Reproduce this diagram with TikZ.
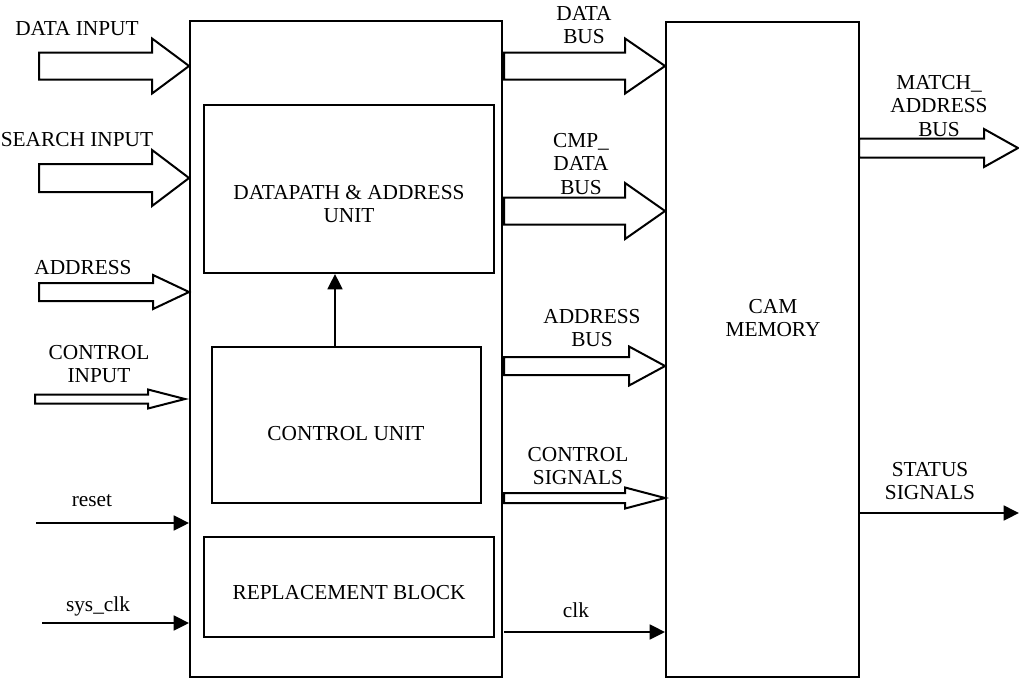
\documentclass[tikz,border=0pt]{standalone}
\usepackage{fontspec}
\setmainfont{Liberation Serif}
\usetikzlibrary{arrows.meta,fit}
\newcommand{\fatarrow}[5]{% #1 tip, #2 head length, #3 shaft length, #4 shaft half width, #5 head half width
  \draw[fat] #1 -- ++({-#2},{-#5}) -- ++(0,{#5-#4}) -- ++({-#3},0) -- ++(0,{2*#4}) -- ++(#3,0) -- ++(0,{#5-#4}) -- cycle;}
\begin{document}
\begin{tikzpicture}[x=0.75pt,y=-0.75pt,
  blk/.style={draw, line width=1.4pt, inner sep=0pt},
  lbl/.style={font=\fontsize{16}{17.6}\selectfont, align=center, inner sep=0pt},
  fat/.style={draw, line width=1.5pt, fill=white, line join=miter},
  sig/.style={line width=2pt, -{Triangle[length=11.5pt,width=11pt]}}]
\useasboundingbox (0,0) rectangle (1019,679);

% blocks
\node[blk, fit={(190,21) (502,677)}] (main) {};
\node[blk, fit={(666,22) (859,677)}] (cam) {};
\node[blk, fit={(204,105) (494,273)}] (dp) {};
\node[blk, fit={(212,347) (481,503)}] (cu) {};
\node[blk, fit={(204,537) (494,637)}] (rb) {};

\node[lbl] (dpt) at (349,204) {DATAPATH \& ADDRESS\\UNIT};
\node[lbl] (cut) at (346,434) {CONTROL UNIT};
\node[lbl] (rbt) at (349,593) {REPLACEMENT BLOCK};
\node[lbl] (camt) at (773,318) {CAM\\MEMORY};

% control unit -> datapath
\coordinate (vx) at (335,0);
\draw[sig] (cu.north -| vx) -- (dp.south -| vx);

% left bus inputs
\fatarrow{(main.west |- 0,66)}{37}{113}{13.5}{27.5}
\fatarrow{(main.west |- 0,178)}{37}{113}{14}{28}
\fatarrow{(main.west |- 0,292)}{36}{114}{9}{17}
\coordinate (citip) at (185,399);
\fatarrow{(citip)}{37}{113}{4.5}{9.5}

\node[lbl] (l1) at (77,29) {DATA INPUT};
\node[lbl] (l2) at (77,140) {SEARCH INPUT};
\node[lbl] (l3) at (83,268) {ADDRESS};
\node[lbl] (l4) at (99,364) {CONTROL\\INPUT};

% left single signals
\coordinate (rs) at (36,523);
\coordinate (sc) at (42,623);
\draw[sig] (rs) -- (main.west |- rs);
\draw[sig] (sc) -- (main.west |- sc);
\node[lbl] (l5) at (92,501) {reset};
\node[lbl] (l6) at (98,606) {sys\_clk};

% buses to CAM
\fatarrow{(cam.west |- 0,66)}{40}{121}{13.5}{27.5}
\fatarrow{(cam.west |- 0,211)}{40}{121}{13.5}{28}
\fatarrow{(cam.west |- 0,366)}{36}{125}{9}{19.5}
\fatarrow{(cam.west |- 0,498)}{40}{121}{5}{10.5}

\node[lbl] (b1) at (584,25) {DATA\\BUS};
\node[lbl] (b2) at (581,164) {CMP\_\\DATA\\BUS};
\node[lbl] (b3) at (592,328) {ADDRESS\\BUS};
\node[lbl] (b4) at (578,466) {CONTROL\\SIGNALS};

\coordinate (ck) at (504,632);
\draw[sig] (ck) -- (cam.west |- ck);
\node[lbl] (b5) at (576,610) {clk};

% outputs
\coordinate (mtip) at (1018,148);
\fatarrow{(mtip)}{34}{125}{9.5}{19}
\node[lbl] (o1) at (939,106) {MATCH\_\\ADDRESS\\BUS};

\coordinate (st) at (1019,513);
\draw[sig] (cam.east |- st) -- (st);
\node[lbl] (o2) at (930,481) {STATUS\\SIGNALS};
\end{tikzpicture}
\end{document}
